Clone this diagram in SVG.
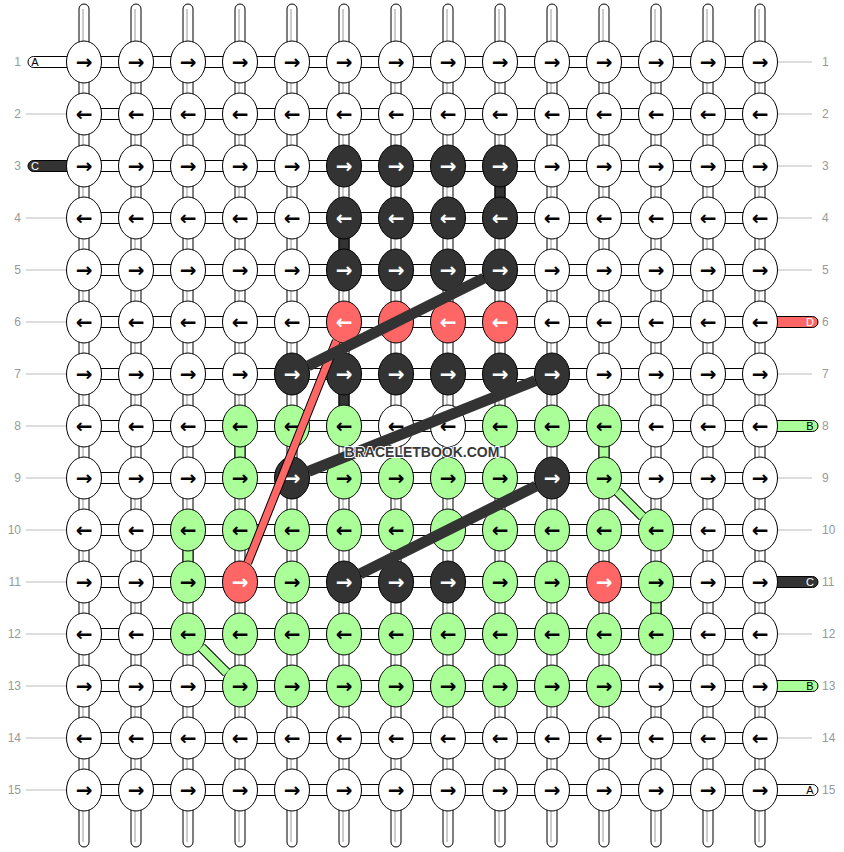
<svg xmlns="http://www.w3.org/2000/svg" xmlns:xlink="http://www.w3.org/1999/xlink" width="844" height="852" viewBox="0 0 844 852">
<defs>
<ellipse id="e" rx="17.5" ry="21" stroke="#000" stroke-width="1"/>
<style>
.str{fill:#fff;stroke:#000;stroke-width:1}
.gl{stroke:#bbb;stroke-width:1.5}
.lbl{stroke:#bbb;stroke-width:1}
.rn{font-family:"Liberation Sans",Arial,sans-serif;font-size:12px;fill:#999}
.tl{font-family:"Liberation Sans",Arial,sans-serif;font-size:11px;text-anchor:middle}
g.w use{fill:#fff} g.k use{fill:#333} g.r use{fill:#ff6666} g.g use{fill:#aaff99}
#nodes text{font-family:"DejaVu Sans",sans-serif;font-size:20px;font-weight:bold;text-anchor:middle;fill:#000}
#nodes g.k text,#nodes g.r text{fill:#fff}
.cseg{stroke:#000;stroke-width:1}
</style>
</defs>
<rect width="844" height="852" fill="#fff"/>
<g id="connectors">
<g id="strings">
<rect class="str" x="79" y="4" width="10" height="843" rx="5"/><line class="gl" x1="83" y1="9" x2="83" y2="842"/>
<rect class="str" x="131" y="4" width="10" height="843" rx="5"/><line class="gl" x1="135" y1="9" x2="135" y2="842"/>
<rect class="str" x="183" y="4" width="10" height="843" rx="5"/><line class="gl" x1="187" y1="9" x2="187" y2="842"/>
<rect class="str" x="235" y="4" width="10" height="843" rx="5"/><line class="gl" x1="239" y1="9" x2="239" y2="842"/>
<rect class="str" x="287" y="4" width="10" height="843" rx="5"/><line class="gl" x1="291" y1="9" x2="291" y2="842"/>
<rect class="str" x="339" y="4" width="10" height="843" rx="5"/><line class="gl" x1="343" y1="9" x2="343" y2="842"/>
<rect class="str" x="391" y="4" width="10" height="843" rx="5"/><line class="gl" x1="395" y1="9" x2="395" y2="842"/>
<rect class="str" x="443" y="4" width="10" height="843" rx="5"/><line class="gl" x1="447" y1="9" x2="447" y2="842"/>
<rect class="str" x="495" y="4" width="10" height="843" rx="5"/><line class="gl" x1="499" y1="9" x2="499" y2="842"/>
<rect class="str" x="547" y="4" width="10" height="843" rx="5"/><line class="gl" x1="551" y1="9" x2="551" y2="842"/>
<rect class="str" x="599" y="4" width="10" height="843" rx="5"/><line class="gl" x1="603" y1="9" x2="603" y2="842"/>
<rect class="str" x="651" y="4" width="10" height="843" rx="5"/><line class="gl" x1="655" y1="9" x2="655" y2="842"/>
<rect class="str" x="703" y="4" width="10" height="843" rx="5"/><line class="gl" x1="707" y1="9" x2="707" y2="842"/>
<rect class="str" x="755" y="4" width="10" height="843" rx="5"/><line class="gl" x1="759" y1="9" x2="759" y2="842"/>
</g>
<g id="rows">
<rect class="str" x="84" y="56.5" width="676" height="11"/>
<rect class="str" x="84" y="108.5" width="676" height="11"/>
<rect class="str" x="84" y="160.5" width="676" height="11"/>
<rect class="str" x="84" y="212.5" width="676" height="11"/>
<rect class="str" x="84" y="264.5" width="676" height="11"/>
<rect class="str" x="84" y="316.5" width="676" height="11"/>
<rect class="str" x="84" y="368.5" width="676" height="11"/>
<rect class="str" x="84" y="420.5" width="676" height="11"/>
<rect class="str" x="84" y="472.5" width="676" height="11"/>
<rect class="str" x="84" y="524.5" width="676" height="11"/>
<rect class="str" x="84" y="576.5" width="676" height="11"/>
<rect class="str" x="84" y="628.5" width="676" height="11"/>
<rect class="str" x="84" y="680.5" width="676" height="11"/>
<rect class="str" x="84" y="732.5" width="676" height="11"/>
<rect class="str" x="84" y="784.5" width="676" height="11"/>
</g>
<g id="thread-ends">
<rect x="28" y="56.5" width="70" height="11" rx="5.5" fill="#fff" stroke="#000"/>
<rect x="28" y="160.5" width="70" height="11" rx="5.5" fill="#333" stroke="#000"/>
<rect x="746" y="316.5" width="72" height="11" rx="5.5" fill="#ff6666" stroke="#000"/>
<rect x="746" y="420.5" width="72" height="11" rx="5.5" fill="#aaff99" stroke="#000"/>
<rect x="746" y="576.5" width="72" height="11" rx="5.5" fill="#333" stroke="#000"/>
<rect x="746" y="680.5" width="72" height="11" rx="5.5" fill="#aaff99" stroke="#000"/>
<rect x="746" y="784.5" width="72" height="11" rx="5.5" fill="#fff" stroke="#000"/>
</g>
<g id="label-lines">
<line class="lbl" x1="26" y1="114" x2="66" y2="114"/>
<line class="lbl" x1="26" y1="218" x2="66" y2="218"/>
<line class="lbl" x1="26" y1="270" x2="66" y2="270"/>
<line class="lbl" x1="26" y1="322" x2="66" y2="322"/>
<line class="lbl" x1="26" y1="374" x2="66" y2="374"/>
<line class="lbl" x1="26" y1="426" x2="66" y2="426"/>
<line class="lbl" x1="26" y1="478" x2="66" y2="478"/>
<line class="lbl" x1="26" y1="530" x2="66" y2="530"/>
<line class="lbl" x1="26" y1="582" x2="66" y2="582"/>
<line class="lbl" x1="26" y1="634" x2="66" y2="634"/>
<line class="lbl" x1="26" y1="686" x2="66" y2="686"/>
<line class="lbl" x1="26" y1="738" x2="66" y2="738"/>
<line class="lbl" x1="26" y1="790" x2="66" y2="790"/>
<line class="lbl" x1="778" y1="62" x2="812" y2="62"/>
<line class="lbl" x1="778" y1="114" x2="812" y2="114"/>
<line class="lbl" x1="778" y1="166" x2="812" y2="166"/>
<line class="lbl" x1="778" y1="218" x2="812" y2="218"/>
<line class="lbl" x1="778" y1="270" x2="812" y2="270"/>
<line class="lbl" x1="778" y1="374" x2="812" y2="374"/>
<line class="lbl" x1="778" y1="478" x2="812" y2="478"/>
<line class="lbl" x1="778" y1="530" x2="812" y2="530"/>
<line class="lbl" x1="778" y1="634" x2="812" y2="634"/>
<line class="lbl" x1="778" y1="738" x2="812" y2="738"/>
</g>
<g id="colored-segments" class="cseg">
<rect x="495" y="185" width="10" height="14" fill="#333"/>
<rect x="339" y="237" width="10" height="14" fill="#333"/>
<rect x="339" y="393" width="10" height="14" fill="#333"/>
<rect x="235" y="445" width="10" height="14" fill="#aaff99"/>
<rect x="599" y="445" width="10" height="14" fill="#aaff99"/>
<rect x="183" y="549" width="10" height="14" fill="#aaff99"/>
<rect x="651" y="601" width="10" height="14" fill="#aaff99"/>
</g>
</g>
<g id="rownums" class="rn">
<text x="21" y="66" text-anchor="end">1</text><text x="822" y="66">1</text>
<text x="21" y="118" text-anchor="end">2</text><text x="822" y="118">2</text>
<text x="21" y="170" text-anchor="end">3</text><text x="822" y="170">3</text>
<text x="21" y="222" text-anchor="end">4</text><text x="822" y="222">4</text>
<text x="21" y="274" text-anchor="end">5</text><text x="822" y="274">5</text>
<text x="21" y="326" text-anchor="end">6</text><text x="822" y="326">6</text>
<text x="21" y="378" text-anchor="end">7</text><text x="822" y="378">7</text>
<text x="21" y="430" text-anchor="end">8</text><text x="822" y="430">8</text>
<text x="21" y="482" text-anchor="end">9</text><text x="822" y="482">9</text>
<text x="21" y="534" text-anchor="end">10</text><text x="822" y="534">10</text>
<text x="21" y="586" text-anchor="end">11</text><text x="822" y="586">11</text>
<text x="21" y="638" text-anchor="end">12</text><text x="822" y="638">12</text>
<text x="21" y="690" text-anchor="end">13</text><text x="822" y="690">13</text>
<text x="21" y="742" text-anchor="end">14</text><text x="822" y="742">14</text>
<text x="21" y="794" text-anchor="end">15</text><text x="822" y="794">15</text>
</g>
<g id="thread-labels" class="tl">
<text x="35" y="66" fill="#000">A</text>
<text x="35" y="170" fill="#fff">C</text>
<text x="810" y="326" fill="#fff">D</text>
<text x="810" y="430" fill="#000">B</text>
<text x="810" y="586" fill="#fff">C</text>
<text x="810" y="690" fill="#000">B</text>
<text x="810" y="794" fill="#000">A</text>
</g>
<g id="nodes">
<g id="n1-1" class="w" transform="translate(84,62)"><use href="#e"/><text y="7">→</text></g>
<g id="n1-2" class="w" transform="translate(136,62)"><use href="#e"/><text y="7">→</text></g>
<g id="n1-3" class="w" transform="translate(188,62)"><use href="#e"/><text y="7">→</text></g>
<g id="n1-4" class="w" transform="translate(240,62)"><use href="#e"/><text y="7">→</text></g>
<g id="n1-5" class="w" transform="translate(292,62)"><use href="#e"/><text y="7">→</text></g>
<g id="n1-6" class="w" transform="translate(344,62)"><use href="#e"/><text y="7">→</text></g>
<g id="n1-7" class="w" transform="translate(396,62)"><use href="#e"/><text y="7">→</text></g>
<g id="n1-8" class="w" transform="translate(448,62)"><use href="#e"/><text y="7">→</text></g>
<g id="n1-9" class="w" transform="translate(500,62)"><use href="#e"/><text y="7">→</text></g>
<g id="n1-10" class="w" transform="translate(552,62)"><use href="#e"/><text y="7">→</text></g>
<g id="n1-11" class="w" transform="translate(604,62)"><use href="#e"/><text y="7">→</text></g>
<g id="n1-12" class="w" transform="translate(656,62)"><use href="#e"/><text y="7">→</text></g>
<g id="n1-13" class="w" transform="translate(708,62)"><use href="#e"/><text y="7">→</text></g>
<g id="n1-14" class="w" transform="translate(760,62)"><use href="#e"/><text y="7">→</text></g>
<g id="n2-1" class="w" transform="translate(84,114)"><use href="#e"/><text y="7">←</text></g>
<g id="n2-2" class="w" transform="translate(136,114)"><use href="#e"/><text y="7">←</text></g>
<g id="n2-3" class="w" transform="translate(188,114)"><use href="#e"/><text y="7">←</text></g>
<g id="n2-4" class="w" transform="translate(240,114)"><use href="#e"/><text y="7">←</text></g>
<g id="n2-5" class="w" transform="translate(292,114)"><use href="#e"/><text y="7">←</text></g>
<g id="n2-6" class="w" transform="translate(344,114)"><use href="#e"/><text y="7">←</text></g>
<g id="n2-7" class="w" transform="translate(396,114)"><use href="#e"/><text y="7">←</text></g>
<g id="n2-8" class="w" transform="translate(448,114)"><use href="#e"/><text y="7">←</text></g>
<g id="n2-9" class="w" transform="translate(500,114)"><use href="#e"/><text y="7">←</text></g>
<g id="n2-10" class="w" transform="translate(552,114)"><use href="#e"/><text y="7">←</text></g>
<g id="n2-11" class="w" transform="translate(604,114)"><use href="#e"/><text y="7">←</text></g>
<g id="n2-12" class="w" transform="translate(656,114)"><use href="#e"/><text y="7">←</text></g>
<g id="n2-13" class="w" transform="translate(708,114)"><use href="#e"/><text y="7">←</text></g>
<g id="n2-14" class="w" transform="translate(760,114)"><use href="#e"/><text y="7">←</text></g>
<g id="n3-1" class="w" transform="translate(84,166)"><use href="#e"/><text y="7">→</text></g>
<g id="n3-2" class="w" transform="translate(136,166)"><use href="#e"/><text y="7">→</text></g>
<g id="n3-3" class="w" transform="translate(188,166)"><use href="#e"/><text y="7">→</text></g>
<g id="n3-4" class="w" transform="translate(240,166)"><use href="#e"/><text y="7">→</text></g>
<g id="n3-5" class="w" transform="translate(292,166)"><use href="#e"/><text y="7">→</text></g>
<g id="n3-6" class="k" transform="translate(344,166)"><use href="#e"/><text y="7">→</text></g>
<g id="n3-7" class="k" transform="translate(396,166)"><use href="#e"/><text y="7">→</text></g>
<g id="n3-8" class="k" transform="translate(448,166)"><use href="#e"/><text y="7">→</text></g>
<g id="n3-9" class="k" transform="translate(500,166)"><use href="#e"/><text y="7">→</text></g>
<g id="n3-10" class="w" transform="translate(552,166)"><use href="#e"/><text y="7">→</text></g>
<g id="n3-11" class="w" transform="translate(604,166)"><use href="#e"/><text y="7">→</text></g>
<g id="n3-12" class="w" transform="translate(656,166)"><use href="#e"/><text y="7">→</text></g>
<g id="n3-13" class="w" transform="translate(708,166)"><use href="#e"/><text y="7">→</text></g>
<g id="n3-14" class="w" transform="translate(760,166)"><use href="#e"/><text y="7">→</text></g>
<g id="n4-1" class="w" transform="translate(84,218)"><use href="#e"/><text y="7">←</text></g>
<g id="n4-2" class="w" transform="translate(136,218)"><use href="#e"/><text y="7">←</text></g>
<g id="n4-3" class="w" transform="translate(188,218)"><use href="#e"/><text y="7">←</text></g>
<g id="n4-4" class="w" transform="translate(240,218)"><use href="#e"/><text y="7">←</text></g>
<g id="n4-5" class="w" transform="translate(292,218)"><use href="#e"/><text y="7">←</text></g>
<g id="n4-6" class="k" transform="translate(344,218)"><use href="#e"/><text y="7">←</text></g>
<g id="n4-7" class="k" transform="translate(396,218)"><use href="#e"/><text y="7">←</text></g>
<g id="n4-8" class="k" transform="translate(448,218)"><use href="#e"/><text y="7">←</text></g>
<g id="n4-9" class="k" transform="translate(500,218)"><use href="#e"/><text y="7">←</text></g>
<g id="n4-10" class="w" transform="translate(552,218)"><use href="#e"/><text y="7">←</text></g>
<g id="n4-11" class="w" transform="translate(604,218)"><use href="#e"/><text y="7">←</text></g>
<g id="n4-12" class="w" transform="translate(656,218)"><use href="#e"/><text y="7">←</text></g>
<g id="n4-13" class="w" transform="translate(708,218)"><use href="#e"/><text y="7">←</text></g>
<g id="n4-14" class="w" transform="translate(760,218)"><use href="#e"/><text y="7">←</text></g>
<g id="n5-1" class="w" transform="translate(84,270)"><use href="#e"/><text y="7">→</text></g>
<g id="n5-2" class="w" transform="translate(136,270)"><use href="#e"/><text y="7">→</text></g>
<g id="n5-3" class="w" transform="translate(188,270)"><use href="#e"/><text y="7">→</text></g>
<g id="n5-4" class="w" transform="translate(240,270)"><use href="#e"/><text y="7">→</text></g>
<g id="n5-5" class="w" transform="translate(292,270)"><use href="#e"/><text y="7">→</text></g>
<g id="n5-6" class="k" transform="translate(344,270)"><use href="#e"/><text y="7">→</text></g>
<g id="n5-7" class="k" transform="translate(396,270)"><use href="#e"/><text y="7">→</text></g>
<g id="n5-8" class="k" transform="translate(448,270)"><use href="#e"/><text y="7">→</text></g>
<g id="n5-9" class="k" transform="translate(500,270)"><use href="#e"/><text y="7">→</text></g>
<g id="n5-10" class="w" transform="translate(552,270)"><use href="#e"/><text y="7">→</text></g>
<g id="n5-11" class="w" transform="translate(604,270)"><use href="#e"/><text y="7">→</text></g>
<g id="n5-12" class="w" transform="translate(656,270)"><use href="#e"/><text y="7">→</text></g>
<g id="n5-13" class="w" transform="translate(708,270)"><use href="#e"/><text y="7">→</text></g>
<g id="n5-14" class="w" transform="translate(760,270)"><use href="#e"/><text y="7">→</text></g>
<g id="n6-1" class="w" transform="translate(84,322)"><use href="#e"/><text y="7">←</text></g>
<g id="n6-2" class="w" transform="translate(136,322)"><use href="#e"/><text y="7">←</text></g>
<g id="n6-3" class="w" transform="translate(188,322)"><use href="#e"/><text y="7">←</text></g>
<g id="n6-4" class="w" transform="translate(240,322)"><use href="#e"/><text y="7">←</text></g>
<g id="n6-5" class="w" transform="translate(292,322)"><use href="#e"/><text y="7">←</text></g>
<g id="n6-6" class="r" transform="translate(344,322)"><use href="#e"/><text y="7">←</text></g>
<g id="n6-7" class="r" transform="translate(396,322)"><use href="#e"/><text y="7">←</text></g>
<g id="n6-8" class="r" transform="translate(448,322)"><use href="#e"/><text y="7">←</text></g>
<g id="n6-9" class="r" transform="translate(500,322)"><use href="#e"/><text y="7">←</text></g>
<g id="n6-10" class="w" transform="translate(552,322)"><use href="#e"/><text y="7">←</text></g>
<g id="n6-11" class="w" transform="translate(604,322)"><use href="#e"/><text y="7">←</text></g>
<g id="n6-12" class="w" transform="translate(656,322)"><use href="#e"/><text y="7">←</text></g>
<g id="n6-13" class="w" transform="translate(708,322)"><use href="#e"/><text y="7">←</text></g>
<g id="n6-14" class="w" transform="translate(760,322)"><use href="#e"/><text y="7">←</text></g>
<g id="n7-1" class="w" transform="translate(84,374)"><use href="#e"/><text y="7">→</text></g>
<g id="n7-2" class="w" transform="translate(136,374)"><use href="#e"/><text y="7">→</text></g>
<g id="n7-3" class="w" transform="translate(188,374)"><use href="#e"/><text y="7">→</text></g>
<g id="n7-4" class="w" transform="translate(240,374)"><use href="#e"/><text y="7">→</text></g>
<g id="n7-5" class="k" transform="translate(292,374)"><use href="#e"/><text y="7">→</text></g>
<g id="n7-6" class="k" transform="translate(344,374)"><use href="#e"/><text y="7">→</text></g>
<g id="n7-7" class="k" transform="translate(396,374)"><use href="#e"/><text y="7">→</text></g>
<g id="n7-8" class="k" transform="translate(448,374)"><use href="#e"/><text y="7">→</text></g>
<g id="n7-9" class="k" transform="translate(500,374)"><use href="#e"/><text y="7">→</text></g>
<g id="n7-10" class="k" transform="translate(552,374)"><use href="#e"/><text y="7">→</text></g>
<g id="n7-11" class="w" transform="translate(604,374)"><use href="#e"/><text y="7">→</text></g>
<g id="n7-12" class="w" transform="translate(656,374)"><use href="#e"/><text y="7">→</text></g>
<g id="n7-13" class="w" transform="translate(708,374)"><use href="#e"/><text y="7">→</text></g>
<g id="n7-14" class="w" transform="translate(760,374)"><use href="#e"/><text y="7">→</text></g>
<g id="n8-1" class="w" transform="translate(84,426)"><use href="#e"/><text y="7">←</text></g>
<g id="n8-2" class="w" transform="translate(136,426)"><use href="#e"/><text y="7">←</text></g>
<g id="n8-3" class="w" transform="translate(188,426)"><use href="#e"/><text y="7">←</text></g>
<g id="n8-4" class="g" transform="translate(240,426)"><use href="#e"/><text y="7">←</text></g>
<g id="n8-5" class="g" transform="translate(292,426)"><use href="#e"/><text y="7">←</text></g>
<g id="n8-6" class="g" transform="translate(344,426)"><use href="#e"/><text y="7">←</text></g>
<g id="n8-7" class="w" transform="translate(396,426)"><use href="#e"/><text y="7">←</text></g>
<g id="n8-8" class="w" transform="translate(448,426)"><use href="#e"/><text y="7">←</text></g>
<g id="n8-9" class="g" transform="translate(500,426)"><use href="#e"/><text y="7">←</text></g>
<g id="n8-10" class="g" transform="translate(552,426)"><use href="#e"/><text y="7">←</text></g>
<g id="n8-11" class="g" transform="translate(604,426)"><use href="#e"/><text y="7">←</text></g>
<g id="n8-12" class="w" transform="translate(656,426)"><use href="#e"/><text y="7">←</text></g>
<g id="n8-13" class="w" transform="translate(708,426)"><use href="#e"/><text y="7">←</text></g>
<g id="n8-14" class="w" transform="translate(760,426)"><use href="#e"/><text y="7">←</text></g>
<g id="n9-1" class="w" transform="translate(84,478)"><use href="#e"/><text y="7">→</text></g>
<g id="n9-2" class="w" transform="translate(136,478)"><use href="#e"/><text y="7">→</text></g>
<g id="n9-3" class="w" transform="translate(188,478)"><use href="#e"/><text y="7">→</text></g>
<g id="n9-4" class="g" transform="translate(240,478)"><use href="#e"/><text y="7">→</text></g>
<g id="n9-5" class="k" transform="translate(292,478)"><use href="#e"/><text y="7">→</text></g>
<g id="n9-6" class="g" transform="translate(344,478)"><use href="#e"/><text y="7">→</text></g>
<g id="n9-7" class="g" transform="translate(396,478)"><use href="#e"/><text y="7">→</text></g>
<g id="n9-8" class="g" transform="translate(448,478)"><use href="#e"/><text y="7">→</text></g>
<g id="n9-9" class="g" transform="translate(500,478)"><use href="#e"/><text y="7">→</text></g>
<g id="n9-10" class="k" transform="translate(552,478)"><use href="#e"/><text y="7">→</text></g>
<g id="n9-11" class="g" transform="translate(604,478)"><use href="#e"/><text y="7">→</text></g>
<g id="n9-12" class="w" transform="translate(656,478)"><use href="#e"/><text y="7">→</text></g>
<g id="n9-13" class="w" transform="translate(708,478)"><use href="#e"/><text y="7">→</text></g>
<g id="n9-14" class="w" transform="translate(760,478)"><use href="#e"/><text y="7">→</text></g>
<g id="n10-1" class="w" transform="translate(84,530)"><use href="#e"/><text y="7">←</text></g>
<g id="n10-2" class="w" transform="translate(136,530)"><use href="#e"/><text y="7">←</text></g>
<g id="n10-3" class="g" transform="translate(188,530)"><use href="#e"/><text y="7">←</text></g>
<g id="n10-4" class="g" transform="translate(240,530)"><use href="#e"/><text y="7">←</text></g>
<g id="n10-5" class="g" transform="translate(292,530)"><use href="#e"/><text y="7">←</text></g>
<g id="n10-6" class="g" transform="translate(344,530)"><use href="#e"/><text y="7">←</text></g>
<g id="n10-7" class="g" transform="translate(396,530)"><use href="#e"/><text y="7">←</text></g>
<g id="n10-8" class="g" transform="translate(448,530)"><use href="#e"/><text y="7">←</text></g>
<g id="n10-9" class="g" transform="translate(500,530)"><use href="#e"/><text y="7">←</text></g>
<g id="n10-10" class="g" transform="translate(552,530)"><use href="#e"/><text y="7">←</text></g>
<g id="n10-11" class="g" transform="translate(604,530)"><use href="#e"/><text y="7">←</text></g>
<g id="n10-12" class="g" transform="translate(656,530)"><use href="#e"/><text y="7">←</text></g>
<g id="n10-13" class="w" transform="translate(708,530)"><use href="#e"/><text y="7">←</text></g>
<g id="n10-14" class="w" transform="translate(760,530)"><use href="#e"/><text y="7">←</text></g>
<g id="n11-1" class="w" transform="translate(84,582)"><use href="#e"/><text y="7">→</text></g>
<g id="n11-2" class="w" transform="translate(136,582)"><use href="#e"/><text y="7">→</text></g>
<g id="n11-3" class="g" transform="translate(188,582)"><use href="#e"/><text y="7">→</text></g>
<g id="n11-4" class="r" transform="translate(240,582)"><use href="#e"/><text y="7">→</text></g>
<g id="n11-5" class="g" transform="translate(292,582)"><use href="#e"/><text y="7">→</text></g>
<g id="n11-6" class="k" transform="translate(344,582)"><use href="#e"/><text y="7">→</text></g>
<g id="n11-7" class="k" transform="translate(396,582)"><use href="#e"/><text y="7">→</text></g>
<g id="n11-8" class="k" transform="translate(448,582)"><use href="#e"/><text y="7">→</text></g>
<g id="n11-9" class="g" transform="translate(500,582)"><use href="#e"/><text y="7">→</text></g>
<g id="n11-10" class="g" transform="translate(552,582)"><use href="#e"/><text y="7">→</text></g>
<g id="n11-11" class="r" transform="translate(604,582)"><use href="#e"/><text y="7">→</text></g>
<g id="n11-12" class="g" transform="translate(656,582)"><use href="#e"/><text y="7">→</text></g>
<g id="n11-13" class="w" transform="translate(708,582)"><use href="#e"/><text y="7">→</text></g>
<g id="n11-14" class="w" transform="translate(760,582)"><use href="#e"/><text y="7">→</text></g>
<g id="n12-1" class="w" transform="translate(84,634)"><use href="#e"/><text y="7">←</text></g>
<g id="n12-2" class="w" transform="translate(136,634)"><use href="#e"/><text y="7">←</text></g>
<g id="n12-3" class="g" transform="translate(188,634)"><use href="#e"/><text y="7">←</text></g>
<g id="n12-4" class="g" transform="translate(240,634)"><use href="#e"/><text y="7">←</text></g>
<g id="n12-5" class="g" transform="translate(292,634)"><use href="#e"/><text y="7">←</text></g>
<g id="n12-6" class="g" transform="translate(344,634)"><use href="#e"/><text y="7">←</text></g>
<g id="n12-7" class="g" transform="translate(396,634)"><use href="#e"/><text y="7">←</text></g>
<g id="n12-8" class="g" transform="translate(448,634)"><use href="#e"/><text y="7">←</text></g>
<g id="n12-9" class="g" transform="translate(500,634)"><use href="#e"/><text y="7">←</text></g>
<g id="n12-10" class="g" transform="translate(552,634)"><use href="#e"/><text y="7">←</text></g>
<g id="n12-11" class="g" transform="translate(604,634)"><use href="#e"/><text y="7">←</text></g>
<g id="n12-12" class="g" transform="translate(656,634)"><use href="#e"/><text y="7">←</text></g>
<g id="n12-13" class="w" transform="translate(708,634)"><use href="#e"/><text y="7">←</text></g>
<g id="n12-14" class="w" transform="translate(760,634)"><use href="#e"/><text y="7">←</text></g>
<g id="n13-1" class="w" transform="translate(84,686)"><use href="#e"/><text y="7">→</text></g>
<g id="n13-2" class="w" transform="translate(136,686)"><use href="#e"/><text y="7">→</text></g>
<g id="n13-3" class="w" transform="translate(188,686)"><use href="#e"/><text y="7">→</text></g>
<g id="n13-4" class="g" transform="translate(240,686)"><use href="#e"/><text y="7">→</text></g>
<g id="n13-5" class="g" transform="translate(292,686)"><use href="#e"/><text y="7">→</text></g>
<g id="n13-6" class="g" transform="translate(344,686)"><use href="#e"/><text y="7">→</text></g>
<g id="n13-7" class="g" transform="translate(396,686)"><use href="#e"/><text y="7">→</text></g>
<g id="n13-8" class="g" transform="translate(448,686)"><use href="#e"/><text y="7">→</text></g>
<g id="n13-9" class="g" transform="translate(500,686)"><use href="#e"/><text y="7">→</text></g>
<g id="n13-10" class="g" transform="translate(552,686)"><use href="#e"/><text y="7">→</text></g>
<g id="n13-11" class="g" transform="translate(604,686)"><use href="#e"/><text y="7">→</text></g>
<g id="n13-12" class="w" transform="translate(656,686)"><use href="#e"/><text y="7">→</text></g>
<g id="n13-13" class="w" transform="translate(708,686)"><use href="#e"/><text y="7">→</text></g>
<g id="n13-14" class="w" transform="translate(760,686)"><use href="#e"/><text y="7">→</text></g>
<g id="n14-1" class="w" transform="translate(84,738)"><use href="#e"/><text y="7">←</text></g>
<g id="n14-2" class="w" transform="translate(136,738)"><use href="#e"/><text y="7">←</text></g>
<g id="n14-3" class="w" transform="translate(188,738)"><use href="#e"/><text y="7">←</text></g>
<g id="n14-4" class="w" transform="translate(240,738)"><use href="#e"/><text y="7">←</text></g>
<g id="n14-5" class="w" transform="translate(292,738)"><use href="#e"/><text y="7">←</text></g>
<g id="n14-6" class="w" transform="translate(344,738)"><use href="#e"/><text y="7">←</text></g>
<g id="n14-7" class="w" transform="translate(396,738)"><use href="#e"/><text y="7">←</text></g>
<g id="n14-8" class="w" transform="translate(448,738)"><use href="#e"/><text y="7">←</text></g>
<g id="n14-9" class="w" transform="translate(500,738)"><use href="#e"/><text y="7">←</text></g>
<g id="n14-10" class="w" transform="translate(552,738)"><use href="#e"/><text y="7">←</text></g>
<g id="n14-11" class="w" transform="translate(604,738)"><use href="#e"/><text y="7">←</text></g>
<g id="n14-12" class="w" transform="translate(656,738)"><use href="#e"/><text y="7">←</text></g>
<g id="n14-13" class="w" transform="translate(708,738)"><use href="#e"/><text y="7">←</text></g>
<g id="n14-14" class="w" transform="translate(760,738)"><use href="#e"/><text y="7">←</text></g>
<g id="n15-1" class="w" transform="translate(84,790)"><use href="#e"/><text y="7">→</text></g>
<g id="n15-2" class="w" transform="translate(136,790)"><use href="#e"/><text y="7">→</text></g>
<g id="n15-3" class="w" transform="translate(188,790)"><use href="#e"/><text y="7">→</text></g>
<g id="n15-4" class="w" transform="translate(240,790)"><use href="#e"/><text y="7">→</text></g>
<g id="n15-5" class="w" transform="translate(292,790)"><use href="#e"/><text y="7">→</text></g>
<g id="n15-6" class="w" transform="translate(344,790)"><use href="#e"/><text y="7">→</text></g>
<g id="n15-7" class="w" transform="translate(396,790)"><use href="#e"/><text y="7">→</text></g>
<g id="n15-8" class="w" transform="translate(448,790)"><use href="#e"/><text y="7">→</text></g>
<g id="n15-9" class="w" transform="translate(500,790)"><use href="#e"/><text y="7">→</text></g>
<g id="n15-10" class="w" transform="translate(552,790)"><use href="#e"/><text y="7">→</text></g>
<g id="n15-11" class="w" transform="translate(604,790)"><use href="#e"/><text y="7">→</text></g>
<g id="n15-12" class="w" transform="translate(656,790)"><use href="#e"/><text y="7">→</text></g>
<g id="n15-13" class="w" transform="translate(708,790)"><use href="#e"/><text y="7">→</text></g>
<g id="n15-14" class="w" transform="translate(760,790)"><use href="#e"/><text y="7">→</text></g>
</g>
<g id="thread-connectors" fill="none" stroke-linecap="butt">
<line x1="336.4" y1="340.9" x2="247.6" y2="563.1" stroke="#000" stroke-width="9"/>
<line x1="336.4" y1="340.9" x2="247.6" y2="563.1" stroke="#ff6666" stroke-width="7"/>
<line x1="201.4" y1="647.4" x2="226.6" y2="672.6" stroke="#000" stroke-width="10"/>
<line x1="201.4" y1="647.4" x2="226.6" y2="672.6" stroke="#aaff99" stroke-width="8"/>
<line x1="617.4" y1="491.4" x2="642.6" y2="516.6" stroke="#000" stroke-width="10"/>
<line x1="617.4" y1="491.4" x2="642.6" y2="516.6" stroke="#aaff99" stroke-width="8"/>
<line x1="483.85" y1="278.08" x2="308.15" y2="365.92" stroke="#333" stroke-width="11"/>
<line x1="535.4" y1="380.64" x2="308.6" y2="471.36" stroke="#333" stroke-width="11"/>
<line x1="535.85" y1="486.08" x2="360.15" y2="573.92" stroke="#333" stroke-width="11"/>
</g>
<text x="422" y="457" font-family="Liberation Sans, Arial, sans-serif" font-size="14" font-weight="bold" text-anchor="middle" fill="#3a3a3a" stroke="#fff" stroke-width="2" paint-order="stroke">BRACELETBOOK.COM</text>
</svg>
